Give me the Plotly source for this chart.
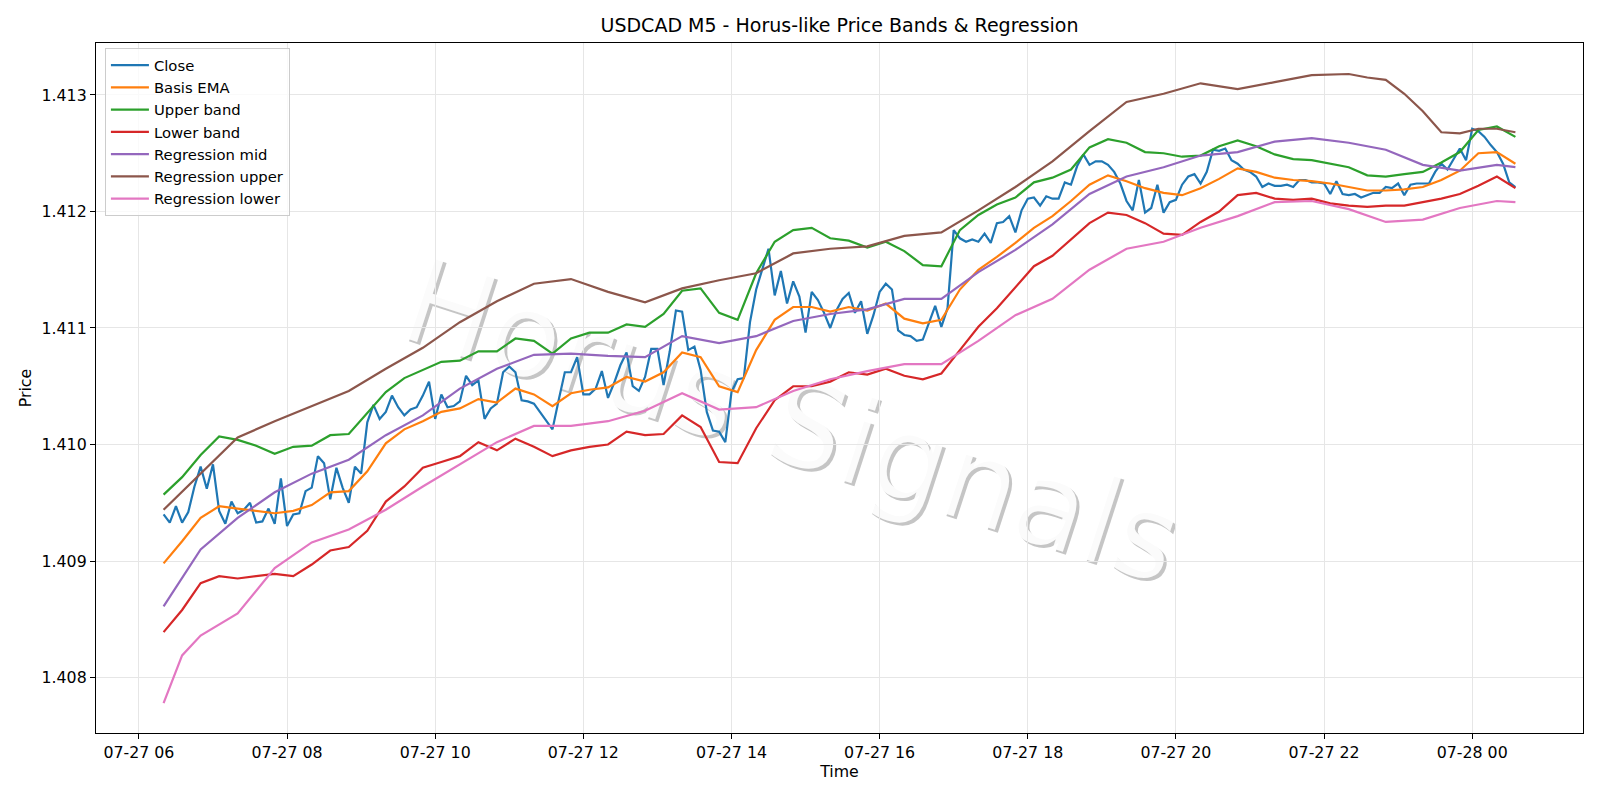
import pandas as pd
import plotly.graph_objects as go

BASE = pd.Timestamp("2024-07-27 06:00")


def bar_times(bars):
    return [BASE + pd.Timedelta(minutes=5 * b) for b in bars]


# bar numbers = 5-minute bars counted from 2024-07-27 06:00
close_bars = list(range(4, 224))
band_bars = list(range(4, 224, 3))
reg_bars = list(range(4, 224, 6)) + [223]
reg_lower_bars = [4, 7] + list(range(10, 224, 6)) + [223]
reg_upper_bars = list(range(4, 191, 6)) + list(range(196, 224, 3))

close = [
    1.40940, 1.40933, 1.40947, 1.40933, 1.40942, 1.40964, 1.40981, 1.40962, 1.40983, 1.40943, 1.40932, 1.40951,
    1.40941, 1.40944, 1.40950, 1.40933, 1.40934, 1.40945, 1.40932, 1.40971, 1.40930, 1.40940, 1.40941, 1.40960,
    1.40963, 1.40990, 1.40984, 1.40953, 1.40980, 1.40963, 1.40950, 1.40981, 1.40975, 1.41019, 1.41034, 1.41022,
    1.41028, 1.41042, 1.41032, 1.41025, 1.41030, 1.41032, 1.41042, 1.41054, 1.41022, 1.41043, 1.41032, 1.41033,
    1.41037, 1.41059, 1.41051, 1.41055, 1.41022, 1.41031, 1.41035, 1.41062, 1.41067, 1.41062, 1.41038, 1.41037,
    1.41035, 1.41028, 1.41021, 1.41013, 1.41038, 1.41062, 1.41062, 1.41075, 1.41043, 1.41043, 1.41048, 1.41063,
    1.41040, 1.41053, 1.41068, 1.41079, 1.41050, 1.41046, 1.41058, 1.41082, 1.41082, 1.41051, 1.41080, 1.41115,
    1.41114, 1.41081, 1.41084, 1.41064, 1.41028, 1.41012, 1.41011, 1.41002, 1.41045, 1.41056, 1.41057, 1.41105,
    1.41133, 1.41150, 1.41168, 1.41128, 1.41149, 1.41121, 1.41140, 1.41127, 1.41096, 1.41131, 1.41124, 1.41113,
    1.41100, 1.41115, 1.41125, 1.41130, 1.41113, 1.41123, 1.41095, 1.41111, 1.41131, 1.41138, 1.41133, 1.41098,
    1.41094, 1.41093, 1.41089, 1.41090, 1.41105, 1.41119, 1.41101, 1.41117, 1.41184, 1.41177, 1.41174, 1.41176,
    1.41174, 1.41181, 1.41173, 1.41190, 1.41191, 1.41196, 1.41182, 1.41201, 1.41211, 1.41212, 1.41205, 1.41213,
    1.41211, 1.41211, 1.41225, 1.41223, 1.41239, 1.41249, 1.41240, 1.41243, 1.41243, 1.41240, 1.41234, 1.41224,
    1.41209, 1.41201, 1.41227, 1.41199, 1.41203, 1.41223, 1.41199, 1.41208, 1.41210, 1.41223, 1.41230, 1.41232,
    1.41224, 1.41234, 1.41253, 1.41252, 1.41254, 1.41244, 1.41241, 1.41236, 1.41234, 1.41230, 1.41221, 1.41224,
    1.41222, 1.41222, 1.41223, 1.41221, 1.41227, 1.41227, 1.41225, 1.41225, 1.41224, 1.41215, 1.41226, 1.41215,
    1.41214, 1.41215, 1.41212, 1.41214, 1.41216, 1.41216, 1.41221, 1.41220, 1.41224, 1.41214, 1.41223, 1.41224,
    1.41224, 1.41224, 1.41234, 1.41241, 1.41236, 1.41245, 1.41254, 1.41244, 1.41271, 1.41269, 1.41264, 1.41257,
    1.41251, 1.41241, 1.41225, 1.41221,
]

basis_ema = [
    1.40898, 1.40917, 1.40937, 1.40947, 1.40945, 1.40943, 1.40941, 1.40943, 1.40948, 1.40959, 1.40960,
    1.40977, 1.41001, 1.41013, 1.41020, 1.41028, 1.41031, 1.41039, 1.41036, 1.41048, 1.41043,
    1.41033, 1.41044, 1.41047, 1.41049, 1.41058, 1.41054, 1.41062, 1.41079, 1.41075, 1.41050,
    1.41045, 1.41081, 1.41107, 1.41118, 1.41118, 1.41114, 1.41118, 1.41115, 1.41121, 1.41108,
    1.41104, 1.41107, 1.41133, 1.41150, 1.41161, 1.41173, 1.41186, 1.41196, 1.41209, 1.41223, 1.41231,
    1.41226, 1.41220, 1.41216, 1.41214, 1.41220, 1.41228, 1.41237, 1.41234, 1.41229, 1.41227, 1.41226,
    1.41224, 1.41221, 1.41218, 1.41218, 1.41219, 1.41221, 1.41227, 1.41235, 1.41250, 1.41251, 1.41241,
]

upper_band = [
    1.40957, 1.40972, 1.40991, 1.41007, 1.41004, 1.40999, 1.40992, 1.40998, 1.40999, 1.41008, 1.41009,
    1.41027, 1.41045, 1.41057, 1.41064, 1.41071, 1.41072, 1.41080, 1.41080, 1.41091, 1.41089,
    1.41078, 1.41091, 1.41096, 1.41096, 1.41103, 1.41101, 1.41112, 1.41132, 1.41134, 1.41113,
    1.41107, 1.41147, 1.41174, 1.41184, 1.41186, 1.41177, 1.41175, 1.41169, 1.41174, 1.41166,
    1.41154, 1.41153, 1.41184, 1.41197, 1.41206, 1.41212, 1.41225, 1.41229, 1.41236, 1.41255, 1.41262,
    1.41259, 1.41251, 1.41250, 1.41247, 1.41248, 1.41256, 1.41261, 1.41256, 1.41249, 1.41245, 1.41244,
    1.41241, 1.41238, 1.41231, 1.41230, 1.41232, 1.41234, 1.41242, 1.41251, 1.41270, 1.41273, 1.41264,
]

lower_band = [
    1.40839, 1.40858, 1.40881, 1.40887, 1.40885, 1.40887, 1.40889, 1.40887, 1.40897, 1.40909, 1.40912,
    1.40926, 1.40951, 1.40964, 1.40980, 1.40985, 1.40990, 1.41002, 1.40995, 1.41005, 1.40998,
    1.40990, 1.40995, 1.40998, 1.41000, 1.41011, 1.41008, 1.41009, 1.41025, 1.41015, 1.40985,
    1.40984, 1.41014, 1.41038, 1.41050, 1.41050, 1.41054, 1.41062, 1.41060, 1.41065, 1.41059,
    1.41056, 1.41061, 1.41081, 1.41101, 1.41117, 1.41135, 1.41153, 1.41162, 1.41176, 1.41190, 1.41199,
    1.41197, 1.41190, 1.41181, 1.41180, 1.41191, 1.41200, 1.41214, 1.41216, 1.41211, 1.41210, 1.41211,
    1.41207, 1.41205, 1.41204, 1.41205, 1.41205, 1.41208, 1.41211, 1.41215, 1.41222, 1.41230, 1.41220,
]

reg_mid = [
    1.40861, 1.40910, 1.40937, 1.40959, 1.40975, 1.40987,
    1.41008, 1.41025, 1.41048, 1.41065, 1.41077,
    1.41078, 1.41076, 1.41075, 1.41093, 1.41087,
    1.41093, 1.41106, 1.41112, 1.41116, 1.41125,
    1.41125, 1.41148, 1.41167, 1.41189, 1.41215,
    1.41230, 1.41238, 1.41248, 1.41251, 1.41260, 1.41263,
    1.41259, 1.41253, 1.41240, 1.41235, 1.41240, 1.41238,
]

reg_upper = [
    1.40944, 1.40975, 1.41006, 1.41020, 1.41033, 1.41046,
    1.41065, 1.41083, 1.41105, 1.41123, 1.41138,
    1.41142, 1.41131, 1.41122, 1.41134, 1.41141,
    1.41147, 1.41164, 1.41168, 1.41170, 1.41179,
    1.41182, 1.41201, 1.41221, 1.41243, 1.41269,
    1.41294, 1.41301, 1.41310, 1.41305, 1.41311, 1.41317,
    1.41318, 1.41315, 1.41313, 1.41301, 1.41286, 1.41268, 1.41267, 1.41271, 1.41271, 1.41268,
]

reg_lower = [
    1.40778, 1.40819, 1.40836, 1.40855, 1.40894, 1.40916, 1.40927,
    1.40944, 1.40964, 1.40983, 1.41002, 1.41016,
    1.41016, 1.41020, 1.41029, 1.41044, 1.41030,
    1.41032, 1.41046, 1.41056, 1.41063, 1.41069,
    1.41069, 1.41089, 1.41111, 1.41125, 1.41150,
    1.41168, 1.41174, 1.41186, 1.41196, 1.41208, 1.41209,
    1.41202, 1.41191, 1.41193, 1.41203, 1.41209, 1.41208,
]

assert len(close) == len(close_bars)
assert len(basis_ema) == len(band_bars) == len(upper_band) == len(lower_band)
assert len(reg_mid) == len(reg_bars)
assert len(reg_upper) == len(reg_upper_bars)
assert len(reg_lower) == len(reg_lower_bars)

series = [
    ("Close", close_bars, close, "#1f77b4"),
    ("Basis EMA", band_bars, basis_ema, "#ff7f0e"),
    ("Upper band", band_bars, upper_band, "#2ca02c"),
    ("Lower band", band_bars, lower_band, "#d62728"),
    ("Regression mid", reg_bars, reg_mid, "#9467bd"),
    ("Regression upper", reg_upper_bars, reg_upper, "#8c564b"),
    ("Regression lower", reg_lower_bars, reg_lower, "#e377c2"),
]

FONT = "DejaVu Sans"
TICK_SIZE = 15.8
fig = go.Figure()
for name, bars, vals, color in series:
    fig.add_trace(go.Scatter(
        x=bar_times(bars), y=vals, mode="lines", name=name,
        line=dict(color=color, width=2.2),
    ))

axis_common = dict(
    showline=True, linecolor="black", linewidth=1.2, mirror=True,
    ticks="outside", ticklen=5, tickwidth=1.2, tickcolor="black",
    showgrid=True, gridcolor="#e6e6e6", gridwidth=1,
    zeroline=False,
    tickfont=dict(family=FONT, size=TICK_SIZE, color="black"),
)

fig.update_xaxes(
    **axis_common,
    type="date",
    range=["2024-07-27 05:25:15", "2024-07-28 01:29:45"],
    tick0="2024-07-27 06:00", dtick=2 * 3600 * 1000,
    tickformat="%m-%d %H",
    title=dict(text="Time", font=dict(family=FONT, size=TICK_SIZE, color="black"), standoff=4),
)
fig.update_yaxes(
    **axis_common,
    range=[1.407524, 1.413446],
    tick0=1.408, dtick=0.001, tickformat=".3f",
    title=dict(text="Price", font=dict(family=FONT, size=TICK_SIZE, color="black"), standoff=5),
)

# watermark drawn beneath the traces (shape labels), with a soft grey shadow
wm_x, wm_y = 0.4694, 0.4638
wm_dx, wm_dy = 3 / 1487, -3 / 690
wm_half = 0.05


def wm_shape(cx, cy, color):
    return dict(
        type="rect", xref="paper", yref="paper", layer="below",
        x0=cx - wm_half, x1=cx + wm_half, y0=cy - wm_half, y1=cy + wm_half,
        line=dict(width=0), fillcolor="rgba(0,0,0,0)",
        label=dict(text="Horus Signals", textangle=18, textposition="middle center",
                   font=dict(family=FONT, size=118, color=color)),
    )


fig.update_layout(
    width=1600, height=800,
    margin=dict(l=96, r=17, t=43, b=67, autoexpand=False),
    paper_bgcolor="white", plot_bgcolor="white",
    font=dict(family=FONT, size=TICK_SIZE, color="black"),
    title=dict(
        text="USDCAD M5 - Horus-like Price Bands & Regression",
        x=0.5, xref="paper", xanchor="center",
        y=1 - 25.5 / 800, yref="container", yanchor="middle",
        font=dict(family=FONT, size=19, color="black"),
    ),
    legend=dict(
        x=0.006, y=0.9928, xanchor="left", yanchor="top",
        bgcolor="rgba(255,255,255,0.8)", bordercolor="#cccccc", borderwidth=1,
        font=dict(family=FONT, size=14.8, color="black"),
        itemwidth=38,
    ),
    showlegend=True,
    shapes=[
        wm_shape(wm_x + wm_dx, wm_y + wm_dy, "rgba(150,150,150,0.55)"),
        wm_shape(wm_x, wm_y, "rgba(255,255,255,0.92)"),
    ],
)

fig.write_html("out.html")
